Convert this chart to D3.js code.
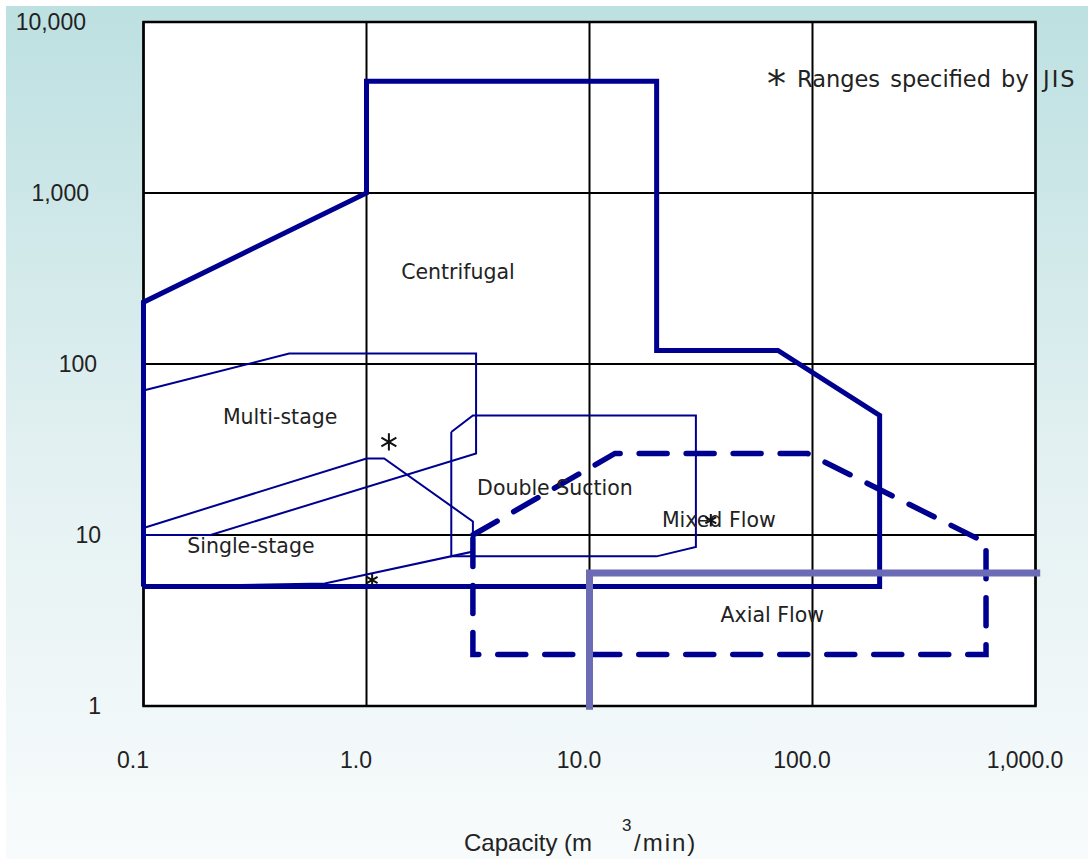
<!DOCTYPE html>
<html>
<head>
<meta charset="utf-8">
<script src="https://cdn.jsdelivr.net/npm/d3@7"></script>
<style>
  html, body { margin: 0; padding: 0; background: #ffffff; }
  svg { display: block; }
</style>
</head>
<body>
<svg id="chart" width="1088" height="859"></svg>
<script>
// ---------- data ----------
const xTicks = [0.1, 1, 10, 100, 1000];
const xTickLabels = ["0.1", "1.0", "10.0", "100.0", "1,000.0"];
const yTicks = [1, 10, 100, 1000, 10000];
const yTickLabels = ["1", "10", "100", "1,000", "10,000"];

// Centrifugal (thick solid)
const centrifugalX = [0.1, 0.1, 1, 1, 20, 20, 70, 200, 200, 0.1];
const centrifugalY = [5, 230, 1000, 4500, 4500, 120, 120, 50, 5, 5];
// Multi-stage (thin)
const multiStageX = [0.1, 0.45, 3.1, 3.1, 0.2, 0.1, 0.1];
const multiStageY = [70, 115, 115, 30, 10, 10, 70];
// Single-stage (thin)
const singleStageX = [0.1, 1.0, 1.2, 3.0, 3.0, 0.65, 0.1, 0.1];
const singleStageY = [11, 28, 28, 12, 8, 5.2, 5, 11];
// Double suction (thin)
const doubleSuctionX = [2.4, 3, 30, 30, 20, 2.4, 2.4];
const doubleSuctionY = [40, 50, 50, 8.5, 7.5, 7.5, 40];
// Mixed flow (thick dashed)
const mixedFlowX = [3, 13, 95, 600, 600, 3, 3];
const mixedFlowY = [10, 30, 30, 9, 2, 2, 10];
// Axial flow (thick light purple)
const axialFlowX = [1050, 10, 10];
const axialFlowY = [6, 6, 0.95];

// JIS marks (*)
const jisX = [1.26, 1.06, 35];
const jisY = [35, 5.45, 12.2];
const jisSize = [210, 110, 110];

// region labels
const labelText = ["Centrifugal", "Multi-stage", "Single-stage", "Double Suction", "Mixed Flow", "Axial Flow"];
const labelX = [2.57, 0.41, 0.303, 7.0, 38, 66];
const labelY = [345, 49, 8.6, 18.8, 12.2, 3.4];

// ---------- layout ----------
const svg = d3.select("#chart");
const W = 1088, H = 859;
const plot = { left: 143.5, right: 1035.5, top: 22, bottom: 706 };
// right edges of the y tick labels (layout only), same order as yTicks
const yLabelRight = [101, 101, 97, 89, 86];

const x = d3.scaleLog().domain([0.1, 1000]).range([plot.left, plot.right]);
const y = d3.scaleLog().domain([1, 10000]).range([plot.bottom, plot.top]);

// background gradient
const defs = svg.append("defs");
const grad = defs.append("linearGradient").attr("id", "bg")
  .attr("x1", 0).attr("y1", 0).attr("x2", 0).attr("y2", 1);
grad.append("stop").attr("offset", "0%").attr("stop-color", "#bde0e1");
grad.append("stop").attr("offset", "55%").attr("stop-color", "#e4f1f2");
grad.append("stop").attr("offset", "100%").attr("stop-color", "#f8fbfc");
svg.append("rect").attr("x", 6).attr("y", 6).attr("width", W - 6).attr("height", H - 6)
  .attr("fill", "url(#bg)");

// plot area
svg.append("rect")
  .attr("x", plot.left).attr("y", plot.top)
  .attr("width", plot.right - plot.left).attr("height", plot.bottom - plot.top)
  .attr("fill", "#ffffff");

// grid
const grid = svg.append("g").attr("stroke", "#000").attr("stroke-width", 2);
grid.selectAll("line.v").data(xTicks).join("line")
  .attr("x1", d => x(d)).attr("x2", d => x(d))
  .attr("y1", plot.top).attr("y2", plot.bottom);
grid.selectAll("line.h").data(yTicks).join("line")
  .attr("y1", d => y(d)).attr("y2", d => y(d))
  .attr("x1", plot.left).attr("x2", plot.right);
svg.append("rect")
  .attr("x", plot.left).attr("y", plot.top)
  .attr("width", plot.right - plot.left).attr("height", plot.bottom - plot.top)
  .attr("fill", "none").attr("stroke", "#000").attr("stroke-width", 2.5);

// axes (tick labels)
const tickFont = "'Liberation Sans', Arial, sans-serif";
const xAxis = d3.axisBottom(x).tickValues(xTicks)
  .tickFormat((d, i) => xTickLabels[i]).tickSize(0).tickPadding(0);
const gx = svg.append("g").attr("transform", `translate(-11,${plot.bottom + 62})`).call(xAxis);
gx.select(".domain").remove();
gx.selectAll("text").attr("font-family", tickFont)
  .attr("font-size", 23).attr("fill", "#222").attr("dy", "0");

const yAxis = d3.axisLeft(y).tickValues(yTicks)
  .tickFormat((d, i) => yTickLabels[i]).tickSize(0).tickPadding(0);
const gy = svg.append("g").attr("transform", `translate(0,0)`).call(yAxis);
gy.select(".domain").remove();
gy.selectAll("text").attr("font-family", tickFont)
  .attr("font-size", 23).attr("fill", "#222")
  .attr("x", (d, i) => yLabelRight[i]);

// axis title
const title = svg.append("text")
  .attr("x", 464).attr("y", 851)
  .attr("font-family", tickFont)
  .attr("font-size", 24).attr("fill", "#222");
title.append("tspan").text("Capacity (m ");
title.append("tspan").attr("x", 622).attr("dy", -20).attr("font-size", 17).text("3");
title.append("tspan").attr("x", 634).attr("dy", 20).attr("letter-spacing", 2).text("/min)");

// shapes
const line = d3.line().x(d => x(d[0])).y(d => y(d[1])).curve(d3.curveLinear);
const zip = (xs, ys) => xs.map((v, i) => [v, ys[i]]);
const navy = "#000090";

const marks = svg.append("g").attr("fill", "none").attr("stroke-linejoin", "miter");

marks.append("path").datum(zip(multiStageX, multiStageY))
  .attr("d", line).attr("stroke", navy).attr("stroke-width", 2);
marks.append("path").datum(zip(singleStageX, singleStageY))
  .attr("d", line).attr("stroke", navy).attr("stroke-width", 2);
marks.append("path").datum(zip(doubleSuctionX, doubleSuctionY))
  .attr("d", line).attr("stroke", navy).attr("stroke-width", 2);
marks.append("path").datum(zip(centrifugalX, centrifugalY))
  .attr("d", line).attr("stroke", navy).attr("stroke-width", 5);
marks.append("path").datum(zip(mixedFlowX, mixedFlowY))
  .attr("d", line).attr("stroke", navy).attr("stroke-width", 5.5)
  .attr("stroke-dasharray", "28,19").attr("stroke-linecap", "round");
marks.append("path").datum(zip(axialFlowX, axialFlowY))
  .attr("d", line).attr("stroke", "#6b6bb6").attr("stroke-width", 7);

// labels
const labelFont = "'DejaVu Sans', sans-serif";
svg.append("g").selectAll("text").data(labelText).join("text")
  .attr("x", (d, i) => x(labelX[i])).attr("y", (d, i) => y(labelY[i]))
  .attr("text-anchor", "middle").attr("dominant-baseline", "central")
  .attr("font-family", labelFont).attr("font-size", 20.5).attr("fill", "#222")
  .text(d => d);

// JIS asterisks
svg.append("g").selectAll("path").data(jisX).join("path")
  .attr("transform", (d, i) => `translate(${x(d)},${y(jisY[i])})`)
  .attr("d", (d, i) => d3.symbol(d3.symbolAsterisk, jisSize[i])())
  .attr("fill", "none").attr("stroke", "#111").attr("stroke-width", 2);

// note
const note = svg.append("text").attr("x", 767).attr("y", 87)
  .attr("font-family", labelFont).attr("font-size", 22.5).attr("fill", "#222");
note.append("tspan").attr("font-size", 38).attr("dy", 10).text("*");
note.append("tspan").attr("x", 797).attr("dy", -10).attr("word-spacing", 3).text("Ranges specified by");
note.append("tspan").attr("x", 1043).attr("letter-spacing", 2).text("JIS");
</script>
</body>
</html>
